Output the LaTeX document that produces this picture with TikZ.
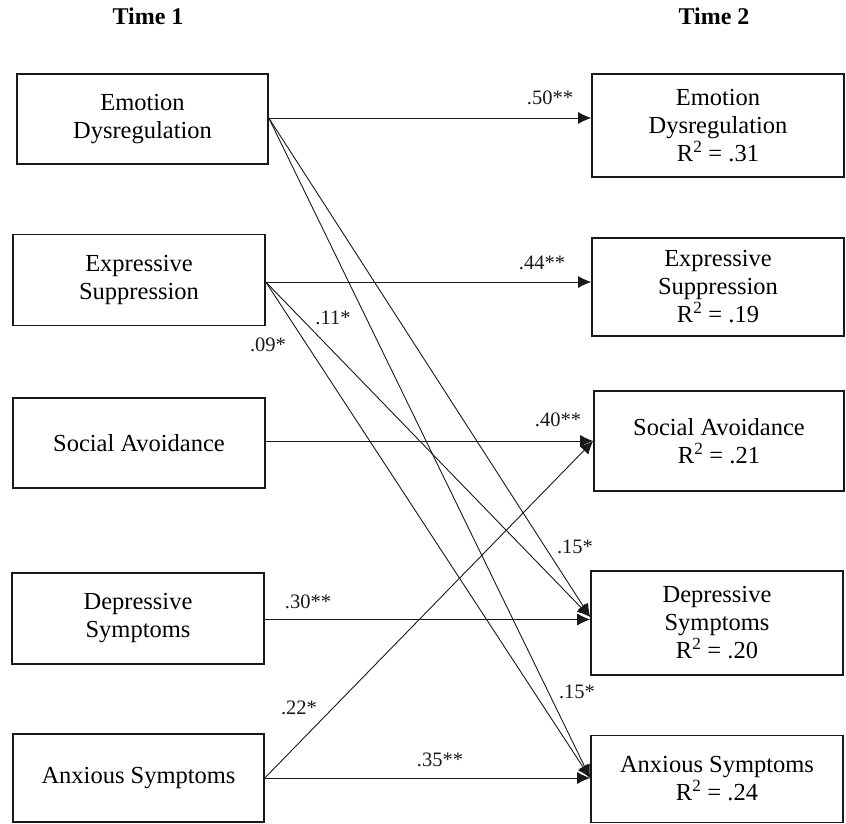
\documentclass[tikz,border=0pt]{standalone}
\usepackage{fontspec}
\setmainfont{Liberation Serif}
\usetikzlibrary{arrows.meta,calc}
\begin{document}
\begin{tikzpicture}[x=1pt,y=-1pt,
  box/.style={draw=black!90,line width=1.6pt,rectangle,align=center,inner sep=0pt,
    font=\fontsize{24.5}{28}\selectfont},
  conn/.style={draw=black!90,line width=0.9pt,-{Latex[length=13pt,width=12pt]}},
  lbl/.style={inner sep=0pt,font=\fontsize{20.5}{24}\selectfont,text=black!90},
  ttl/.style={inner sep=0pt,font=\fontsize{24}{28}\selectfont\bfseries}]
\useasboundingbox (0,0) rectangle (846,824);
% titles
\node[ttl] (t1) at (148,16) {Time 1};
\node[ttl] (t2) at (714,16) {Time 2};
% left boxes
\node[box,minimum width=251pt,minimum height=90pt] (ed1) at (142.5,119) {Emotion\\Dysregulation};
\node[box,minimum width=252pt,minimum height=91pt] (es1) at (139,280) {Expressive\\Suppression};
\node[box,minimum width=252pt,minimum height=90pt] (sa1) at (139,443) {Social Avoidance};
\node[box,minimum width=252pt,minimum height=91pt] (ds1) at (138,618.5) {Depressive\\Symptoms};
\node[box,minimum width=251pt,minimum height=88pt] (as1) at (138.5,778) {Anxious Symptoms};
% right boxes
\node[box,minimum width=252pt,minimum height=103pt] (ed2) at (718,125.5) {Emotion\\Dysregulation\\R\textsuperscript{2} = .31};
\node[box,minimum width=252pt,minimum height=98pt] (es2) at (718,287) {Expressive\\Suppression\\R\textsuperscript{2} = .19};
\node[box,minimum width=250pt,minimum height=100pt] (sa2) at (719,441) {Social Avoidance\\R\textsuperscript{2} = .21};
\node[box,minimum width=252pt,minimum height=104pt] (ds2) at (717,623) {Depressive\\Symptoms\\R\textsuperscript{2} = .20};
\node[box,minimum width=252pt,minimum height=87pt] (as2) at (717,779) {Anxious Symptoms\\R\textsuperscript{2} = .24};
% connectors
\draw[conn] ([yshift=1pt]ed1.east) -- ([yshift=1pt]ed1.east -| ed2.west);
\draw[conn] ([yshift=-2pt]es1.east) -- ([yshift=-2pt]es1.east -| es2.west);
\draw[conn] ([yshift=2pt]sa1.east) -- ([yshift=2pt]sa1.east -| sa2.west);
\draw[conn] ([yshift=-1pt]ds1.east) -- ([yshift=-1pt]ds1.east -| ds2.west);
\draw[conn] (as1.east) -- (as1.east -| as2.west);
\draw[conn] (as1.east) -- (sa2.west);
\draw[conn] ([yshift=1pt]ed1.east) -- ([yshift=6pt]ds2.west);
\draw[conn] ([yshift=1pt]ed1.east) -- ([yshift=1pt]as2.west);
\draw[conn] ([yshift=-2pt]es1.east) -- ([yshift=6pt]ds2.west);
\draw[conn] ([yshift=-2pt]es1.east) -- ([yshift=1pt]as2.west);
% labels
\node[lbl] (l50) at (550,98) {.50**};
\node[lbl] (l44) at (542,263) {.44**};
\node[lbl] (l40) at (558,420) {.40**};
\node[lbl] (l30) at (308,602) {.30**};
\node[lbl] (l35) at (440,760) {.35**};
\node[lbl] (l22) at (299,708) {.22*};
\node[lbl] (l11) at (333,318) {.11*};
\node[lbl] (l09) at (268,345) {.09*};
\node[lbl] (l15a) at (575,547) {.15*};
\node[lbl] (l15b) at (577,692) {.15*};
\end{tikzpicture}
\end{document}
